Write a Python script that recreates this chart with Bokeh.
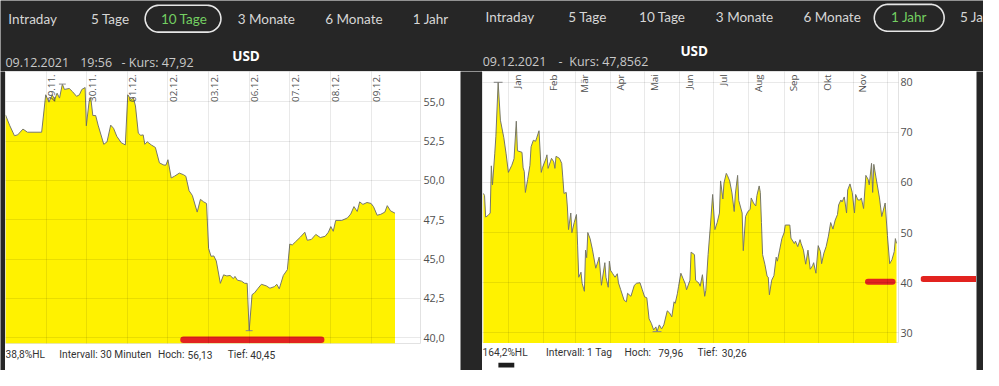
import numpy as np
import pandas as pd
from bokeh.plotting import figure
from bokeh.layouts import column, row
from bokeh.models import Range1d, FixedTicker, CustomJSTickFormatter, Grid, ColumnDataSource
from bokeh.core.properties import value
from bokeh.embed import file_html
from bokeh.resources import INLINE

FONT = "Open Sans"
NAV_FONT = "Lato"
FOOT_FONT = "Roboto"
DARK = "#262626"
YELLOW = "#fff200"
LINE = "#77776a"
RED = "#e2231f"

# ---------------- data ----------------
nav_labels = ["Intraday", "5 Tage", "10 Tage", "3 Monate", "6 Monate", "1 Jahr", "5 Ja"]

# left panel: 10 Tage, 30-minute interval (x = trading-day index, 0 = 26.11.)
left_title = "USD"
left_head = ["09.12.2021", "19:56", "- Kurs: 47,92"]
left_stats = ["38,8%HL", "Intervall: 30 Minuten", "Hoch:", "56,13", "Tief:", "40,45"]
left_day_pos = [1, 2, 3, 4, 5, 6, 7, 8, 9]
left_day_labels = ["29.11.", "30.11.", "01.12.", "02.12.", "03.12.", "06.12.", "07.12.", "08.12.", "09.12."]
left_y_ticks = [40.0, 42.5, 45.0, 47.5, 50.0, 52.5, 55.0]
left_x = [0.00, 0.10, 0.22, 0.30, 0.43, 0.54, 0.89, 0.99, 1.07, 1.15,
          1.21, 1.27, 1.33, 1.40, 1.45, 1.57, 1.65, 1.75, 1.82, 1.88,
          1.96, 1.99, 2.06, 2.10, 2.15, 2.22, 2.28, 2.42, 2.50, 2.59,
          2.66, 2.74, 2.85, 2.95, 3.01, 3.09, 3.15, 3.20, 3.27, 3.33,
          3.39, 3.43, 3.49, 3.59, 3.69, 3.79, 3.90, 3.95, 4.00, 4.08,
          4.16, 4.28, 4.38, 4.44, 4.52, 4.60, 4.72, 4.80, 4.88, 4.95,
          5.00, 5.06, 5.13, 5.19, 5.29, 5.37, 5.45, 5.53, 5.61, 5.65,
          5.71, 5.81, 5.89, 5.95, 6.00, 6.07, 6.13, 6.22, 6.30, 6.42,
          6.51, 6.62, 6.68, 6.74, 6.84, 6.94, 7.00, 7.06, 7.14, 7.26,
          7.37, 7.43, 7.53, 7.64, 7.75, 7.87, 7.95, 8.01, 8.07, 8.13,
          8.28, 8.42, 8.50, 8.58, 8.66, 8.72, 8.80, 8.90, 9.00, 9.06,
          9.15, 9.24, 9.34, 9.40, 9.48, 9.59]
left_y = [54.17, 53.52, 52.85, 52.90, 53.27, 53.07, 53.07, 55.45, 54.98, 55.45,
          55.15, 55.55, 55.24, 56.13, 55.79, 55.85, 55.65, 55.35, 55.45, 55.79,
          55.91, 53.48, 55.04, 55.24, 54.13, 54.13, 53.52, 52.30, 52.46, 53.52,
          53.32, 52.81, 52.40, 52.26, 55.45, 55.15, 55.24, 54.74, 53.01, 52.87,
          52.90, 52.30, 52.46, 52.26, 52.10, 51.12, 50.98, 50.98, 51.32, 50.16,
          50.27, 50.47, 50.37, 50.27, 49.35, 49.05, 47.99, 48.80, 48.64, 48.54,
          45.69, 45.18, 45.20, 44.88, 43.46, 44.00, 43.93, 43.96, 43.76, 43.90,
          43.66, 43.60, 43.46, 43.46, 40.45, 42.74, 42.85, 43.15, 43.40, 43.30,
          43.15, 43.25, 43.40, 43.11, 43.96, 44.33, 45.96, 45.90, 46.10, 46.40,
          46.71, 46.20, 46.25, 46.57, 46.37, 46.45, 46.71, 47.07, 46.77, 47.46,
          47.46, 47.62, 47.87, 48.34, 48.03, 48.64, 48.48, 48.60, 48.54, 48.34,
          47.79, 47.85, 47.99, 48.40, 48.07, 47.92]

# right panel: 1 Jahr, daily (x = days since 2021-01-01)
right_title = "USD"
right_head = ["09.12.2021", "-", "Kurs: 47,8562"]
right_stats = ["164,2%HL", "Intervall: 1 Tag", "Hoch:", "79,96", "Tief:", "30,26"]
right_month_starts = ["2021-01-01", "2021-02-01", "2021-03-01", "2021-04-01", "2021-05-01", "2021-06-01",
                      "2021-07-01", "2021-08-01", "2021-09-01", "2021-10-01", "2021-11-01", "2021-12-01"]
right_month_labels = ["Jan", "Feb", "Mär", "Apr", "Mai", "Jun", "Jul", "Aug", "Sep", "Okt", "Nov"]
right_y_ticks = [30, 40, 50, 60, 70, 80]
right_days = [-22, -21, -20, -18, -16, -15, -14, -12, -11, -9,
              -7, -4, -2, 0, 3, 5, 7, 8, 12, 13,
              14, 15, 17, 19, 20, 22, 24, 25, 27, 29,
              30, 33, 34, 35, 37, 38, 40, 41, 42, 45,
              47, 48, 49, 51, 52, 53, 55, 56, 58, 60,
              61, 62, 64, 65, 67, 68, 69, 70, 72, 74,
              77, 79, 80, 82, 85, 86, 88, 89, 90, 92,
              94, 96, 97, 99, 102, 104, 105, 108, 111, 113,
              116, 118, 120, 122, 124, 126, 128, 130, 131, 133,
              135, 137, 140, 142, 144, 146, 147, 149, 150, 152,
              154, 156, 157, 160, 161, 164, 165, 168, 169, 171,
              173, 174, 176, 178, 180, 182, 184, 186, 187, 189,
              190, 192, 193, 195, 197, 199, 200, 202, 203, 206,
              207, 209, 211, 213, 214, 216, 218, 219, 221, 222,
              223, 224, 226, 228, 229, 230, 232, 234, 236, 237,
              239, 241, 243, 244, 248, 249, 252, 253, 255, 257,
              258, 260, 262, 264, 266, 268, 269, 271, 273, 275,
              276, 278, 280, 282, 284, 286, 288, 290, 291, 293,
              294, 296, 298, 299, 301, 303, 305, 306, 308, 310,
              311, 313, 315, 317, 318, 320, 321, 322, 324, 327,
              329, 332, 334, 336, 338, 340, 341, 342]
right_vals = [57.8, 57.4, 53.1, 53.4, 53.9, 63.3, 59.5, 65.7, 69.2, 79.96,
              72.4, 68.9, 65.7, 62.0, 63.4, 64.7, 72.2, 66.3, 66.0, 62.9,
              62.2, 58.0, 60.6, 63.4, 67.1, 68.4, 68.2, 68.9, 70.3, 62.0,
              62.9, 64.7, 65.5, 62.8, 64.1, 64.8, 64.1, 62.8, 65.2, 64.8,
              63.8, 60.9, 57.8, 58.0, 55.1, 50.6, 53.9, 50.0, 52.0, 53.6,
              47.5, 41.1, 42.1, 39.9, 38.3, 46.5, 45.0, 50.0, 48.8, 46.7,
              42.9, 44.3, 45.1, 39.5, 44.0, 41.1, 39.1, 44.3, 42.5, 41.8,
              41.1, 41.8, 40.0, 38.6, 36.5, 36.2, 37.9, 37.3, 39.5, 39.9,
              40.0, 38.6, 37.2, 37.0, 32.8, 31.9, 30.6, 31.2, 30.26, 31.6,
              30.8, 31.6, 34.4, 34.0, 33.2, 36.2, 35.9, 37.9, 39.3, 41.9,
              40.8, 39.7, 38.6, 40.5, 46.1, 45.6, 40.5, 39.9, 39.3, 41.6,
              37.3, 38.5, 45.6, 51.3, 57.6, 50.6, 52.0, 53.9, 60.3, 56.7,
              59.9, 61.8, 61.4, 60.3, 57.9, 54.2, 57.7, 61.4, 56.4, 53.9,
              46.4, 53.2, 54.2, 54.6, 56.9, 55.9, 55.3, 57.4, 59.3, 58.0,
              52.0, 45.6, 43.7, 41.3, 41.1, 37.6, 40.5, 41.4, 45.1, 44.3,
              46.5, 48.8, 50.0, 51.5, 51.5, 48.9, 47.8, 48.3, 47.2, 48.6,
              47.8, 46.5, 43.7, 46.5, 42.7, 43.4, 44.0, 41.9, 47.4, 46.2,
              43.8, 45.9, 47.2, 49.3, 52.0, 50.7, 52.5, 53.6, 55.5, 56.5,
              56.1, 57.1, 53.9, 58.5, 59.7, 58.0, 53.9, 57.6, 56.5, 56.5,
              56.9, 54.8, 61.4, 60.6, 59.5, 63.8, 58.0, 63.6, 60.9, 56.9,
              53.2, 55.9, 49.4, 43.8, 44.6, 46.2, 48.8, 47.86]

# ---------------- geometry (reference layout 999x386, scaled into 983x370) ----------------
L_PX_X = 41.3      # reference px per trading day
L_PX_Y = 16.42     # reference px per USD
L_X0, L_X1 = 0.0, (427 - 5) / L_PX_X
L_Y1 = 55 + (105.7 - 74) / L_PX_Y
L_Y0 = 40 - (358 - 352) / L_PX_Y

BASE = pd.Timestamp("2021-01-01")
DAY_MS = 86400000.0
R_PX_X = 1.154     # reference px per calendar day
R_PX_Y = 5.22
BASE_MS = BASE.value / 1e6
R_X0 = BASE_MS + (-(516.3 - 490) / R_PX_X) * DAY_MS
R_X1 = BASE_MS + ((913 - 516.3) / R_PX_X) * DAY_MS
R_Y1 = 80 + (85 - 74) / R_PX_Y
R_Y0 = 30 - (357 - 346) / R_PX_Y

right_x = [BASE_MS + d * DAY_MS for d in right_days]
month_ms = [pd.Timestamp(s).value / 1e6 for s in right_month_starts]


def put(p, xs, ys, texts, size, color, font=FONT, style="normal", align="left",
        baseline="middle", **kw):
    p.text(x=xs, y=ys, text=texts, text_font=value(font), text_font_size=size,
           text_color=color, text_font_style=style, text_align=align,
           text_baseline=baseline, **kw)


def panel(width, height, x0, x1, top, bottom, bg):
    p = figure(width=width, height=height, x_range=Range1d(x0, x1),
               y_range=Range1d(bottom, top), output_backend="svg",
               toolbar_location=None, x_axis_location=None, y_axis_location=None,
               min_border=0, background_fill_color=bg, border_fill_color=bg,
               outline_line_color=None)
    for g in p.grid:
        g.visible = False
    return p


def chart(width, height, xr, yr, border_right, border_bottom, standoff, fmt=None):
    p = figure(width=width, height=height, x_range=xr, y_range=yr, output_backend="svg",
               toolbar_location=None, x_axis_location=None, y_axis_location="right",
               min_border_left=0, min_border_top=0, min_border_bottom=border_bottom,
               min_border_right=border_right, background_fill_color="white",
               border_fill_color="white", outline_line_color="#e2e2e2")
    for g in p.grid:
        g.visible = False
    ax = p.yaxis[0]
    ax.axis_line_color = None
    ax.major_tick_line_color = None
    ax.minor_tick_line_color = None
    ax.major_tick_out = 0
    ax.major_label_text_font = FONT
    ax.major_label_text_font_size = "10.7px"
    ax.major_label_text_color = "#505050"
    ax.major_label_standoff = standoff
    if fmt is not None:
        ax.formatter = fmt
    return p


def pill(p, x0, x1, yc, r):
    t1 = np.linspace(-np.pi / 2, np.pi / 2, 30)
    t2 = np.linspace(np.pi / 2, 3 * np.pi / 2, 30)
    xs = np.concatenate([x1 - r + r * np.cos(t1), x0 + r + r * np.cos(t2)])
    ys = np.concatenate([yc + r * np.sin(t1), yc + r * np.sin(t2)])
    xs = np.append(xs, xs[0])
    ys = np.append(ys, ys[0])
    p.line(xs, ys, line_color="#e6e6e6", line_width=1.6)


# ---------------- top bar ----------------
top = panel(983, 71, 0, 999, 0, 74, DARK)
nav_l_x = [8, 92, 163, 241, 330, 419]
nav_r_x = [493, 577, 649, 727, 816, 905, 975]
GREEN = "#74cf62"
NAVC = "#d6d6d6"
put(top, nav_l_x, [19] * 6, nav_labels[:6], "13.5px",
    [NAVC, NAVC, GREEN, NAVC, NAVC, NAVC], font=NAV_FONT)
put(top, nav_r_x, [17.5] * 7, nav_labels,
    "13.5px", [NAVC, NAVC, NAVC, NAVC, NAVC, GREEN, NAVC], font=NAV_FONT)
pill(top, 147, 224, 19, 14)
pill(top, 888, 959, 18, 14)
put(top, [249.5], [58], [left_title], "13.5px", "white", style="bold", align="center")
put(top, [705], [53], [right_title], "13.5px", "white", style="bold", align="center")
put(top, [5, 81, 123], [65] * 3, left_head, "12.5px", "#c9c9c9")
put(top, [490, 567, 578], [63.5] * 3, right_head, "12.5px", "#c9c9c9")

# ---------------- left chart ----------------
lc = chart(455, 275, Range1d(L_X0, L_X1), Range1d(L_Y0, L_Y1), 40, 3, 3,
           CustomJSTickFormatter(code="return tick.toFixed(1).replace('.', ',');"))
lc.yaxis[0].ticker = FixedTicker(ticks=left_y_ticks)
lsrc = ColumnDataSource(dict(x=left_x, y=left_y))
lc.varea(x="x", y1=L_Y0, y2="y", source=lsrc, fill_color=YELLOW)
lc.line(x="x", y="y", source=lsrc, line_color=LINE, line_width=1)
lc.add_layout(Grid(dimension=0, ticker=FixedTicker(ticks=left_day_pos), grid_line_color="black",
                   grid_line_alpha=0.085, level="overlay"))
lc.add_layout(Grid(dimension=1, ticker=FixedTicker(ticks=left_y_ticks), grid_line_color="black",
                   grid_line_alpha=0.085, level="overlay"))
put(lc, left_day_pos, [L_Y1 - 3 / L_PX_Y] * len(left_day_pos), left_day_labels, "9.8px",
    "#505050", align="right", baseline="top", angle=np.pi / 2, x_offset=2)
ih, il = int(np.argmax(left_y)), int(np.argmin(left_y))
hw = 3.5 / L_PX_X
lc.segment(x0=[left_x[ih] - hw, left_x[il] - hw], y0=[left_y[ih], left_y[il]],
           x1=[left_x[ih] + hw, left_x[il] + hw], y1=[left_y[ih], left_y[il]],
           line_color="#8a8a8a", line_width=1)
# hand-drawn red marker from the screenshot
lc.segment(x0=[(186 - 5) / L_PX_X], y0=[39.88], x1=[(326 - 5) / L_PX_X], y1=[39.88],
           line_color=RED, line_width=6.5, line_cap="round")

lfoot = panel(455, 24, 5, 468, 361, 386, "white")
put(lfoot, [5, 65, 175, 208, 253, 278], [369.5] * 6, left_stats, "10.2px", "#333333",
    font=FOOT_FONT)

# ---------------- right chart ----------------
rc = chart(438, 272, Range1d(R_X0, R_X1), Range1d(R_Y0, R_Y1), 22, 0, 2)
rc.yaxis[0].ticker = FixedTicker(ticks=right_y_ticks)
rsrc = ColumnDataSource(dict(x=right_x, y=right_vals))
rc.varea(x="x", y1=R_Y0, y2="y", source=rsrc, fill_color=YELLOW)
rc.line(x="x", y="y", source=rsrc, line_color=LINE, line_width=1)
rc.add_layout(Grid(dimension=0, ticker=FixedTicker(ticks=month_ms), grid_line_color="black",
                   grid_line_alpha=0.085, level="overlay"))
rc.add_layout(Grid(dimension=1, ticker=FixedTicker(ticks=right_y_ticks), grid_line_color="black",
                   grid_line_alpha=0.085, level="overlay"))
put(rc, month_ms[:len(right_month_labels)], [R_Y1 - 3 / R_PX_Y] * len(right_month_labels),
    right_month_labels, "9.8px", "#505050", align="right", baseline="top",
    angle=np.pi / 2, x_offset=3)
jh, jl = int(np.argmax(right_vals)), int(np.argmin(right_vals))
rw = 4.5 / R_PX_X * DAY_MS
rc.segment(x0=[right_x[jh] - rw, right_x[jl] - rw], y0=[right_vals[jh], right_vals[jl]],
           x1=[right_x[jh] + rw, right_x[jl] + rw], y1=[right_vals[jh], right_vals[jl]],
           line_color="#8a8a8a", line_width=1)
rc.segment(x0=[BASE_MS + 316.9 * DAY_MS], y0=[40.2], x1=[BASE_MS + 338.5 * DAY_MS], y1=[40.2],
           line_color=RED, line_width=6, line_cap="round")

rfoot = panel(438, 27, 490, 935, 358, 386, "white")
put(rfoot, [490, 558, 642, 678, 720, 746], [367.5] * 6, right_stats, "10.2px", "#333333",
    font=FOOT_FONT)
rfoot.quad(left=[507], right=[524], top=[378], bottom=[383], fill_color="#1e1e1e",
           line_color=None)

strip_l = panel(5, 299, 0, 5, 74, 386, DARK)
gap = panel(22, 299, 468, 490, 74, 386, DARK)
pad = panel(56, 299, 935, 992, 74, 386, "white")
pad.segment(x0=[938], y0=[290.5], x1=[996], y1=[290.5], line_color=RED, line_width=6,
            line_cap="round")
strip_r = panel(7, 299, 992, 999, 74, 386, DARK)

layout = column(top, row(strip_l, column(lc, lfoot), gap, column(rc, rfoot), pad, strip_r))

open("out.html", "w").write(file_html(layout, INLINE))
